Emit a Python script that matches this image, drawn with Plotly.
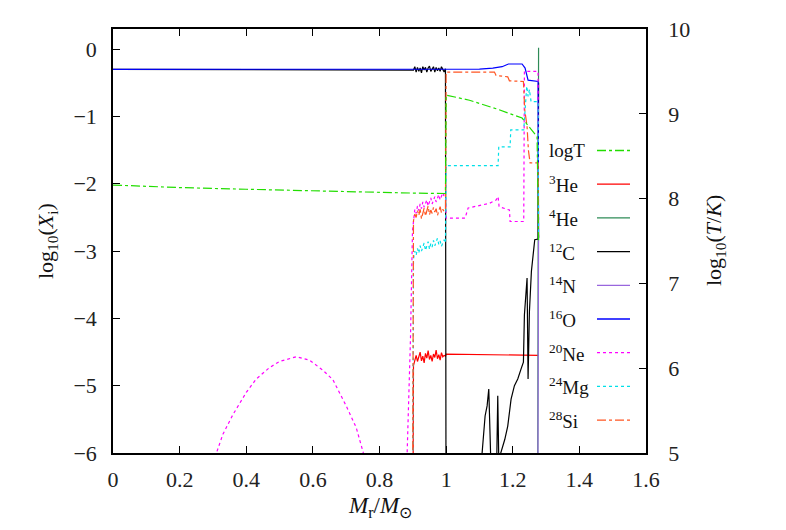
import plotly.graph_objects as go

# ---------------- data ----------------
NOISE_X = [0.902, 0.906, 0.910, 0.914, 0.918, 0.922, 0.926, 0.930, 0.934, 0.938,
           0.942, 0.946, 0.950, 0.954, 0.958, 0.962, 0.966, 0.970, 0.974, 0.978,
           0.982, 0.986, 0.990, 0.994, 0.998]

logT_x = [0.0, 0.2, 0.4, 0.6, 0.8, 0.9, 0.998, 1.0, 1.07, 1.15, 1.228, 1.252, 1.273, 1.2775]
logT_y = [8.16, 8.13, 8.11, 8.09, 8.07, 8.065, 8.06, 9.22, 9.16, 9.06, 8.95, 8.83, 8.73, 7.51]

he3_noise = [-4.70, -4.62, -4.55, -4.64, -4.58, -4.50, -4.63, -4.56, -4.66, -4.52,
             -4.59, -4.48, -4.61, -4.55, -4.64, -4.53, -4.58, -4.47, -4.60, -4.54,
             -4.62, -4.51, -4.57, -4.55, -4.56]
he3_x = [0.0, 0.899] + NOISE_X + [1.0, 1.276, 1.2775]
he3_y = [-9.0, -9.0] + he3_noise + [-4.53, -4.55, -4.55]

he4_x = [0.0, 1.274, 1.2775]
he4_y = [-9.0, -9.0, 0.02]

c12_noise = [-0.31, -0.26, -0.34, -0.27, -0.33, -0.28, -0.35, -0.26, -0.31, -0.27,
             -0.34, -0.28, -0.25, -0.33, -0.30, -0.26, -0.34, -0.27, -0.32, -0.28,
             -0.33, -0.26, -0.30, -0.34, -0.29]
c12_x = [0.0, 0.898] + NOISE_X + [1.0, 1.105, 1.108, 1.117, 1.123, 1.128, 1.131, 1.134,
                                  1.152, 1.155, 1.158, 1.168, 1.176, 1.185, 1.195, 1.205,
                                  1.215, 1.225, 1.232, 1.235, 1.240, 1.243, 1.246, 1.250,
                                  1.256, 1.261, 1.266, 1.276, 1.2775]
c12_y = [-0.30, -0.30] + c12_noise + [-8.0, -8.0, -6.0, -5.45, -5.30, -5.05, -5.50, -6.10,
                                      -6.10, -5.15, -6.10, -5.95, -5.80, -5.60, -5.20, -5.00,
                                      -4.90, -4.75, -4.65, -3.95, -3.60, -3.40, -4.90, -3.90,
                                      -3.30, -3.05, -2.83, -2.82, -0.50]

n14_x = [0.0, 1.274, 1.2775]
n14_y = [-9.0, -9.0, -2.80]

o16_x = [0.0, 0.998, 1.0, 1.10, 1.14, 1.168, 1.187, 1.228, 1.237, 1.246, 1.276, 1.2775]
o16_y = [-0.30, -0.30, -0.30, -0.295, -0.28, -0.26, -0.22, -0.22, -0.28, -0.46, -0.48, -2.80]

ne20_noise = [-2.52, -2.38, -2.44, -2.33, -2.40, -2.30, -2.37, -2.27, -2.35, -2.29,
              -2.24, -2.33, -2.26, -2.21, -2.30, -2.23, -2.19, -2.27, -2.20, -2.16,
              -2.24, -2.17, -2.13, -2.19, -2.14]
ne20_x = [0.25, 0.30, 0.33, 0.36, 0.40, 0.43, 0.47, 0.50, 0.55, 0.59, 0.63, 0.66, 0.70,
          0.73, 0.76, 0.80, 0.883, 0.893, 0.899] + NOISE_X + \
         [1.0, 1.057, 1.066, 1.09, 1.13, 1.15, 1.156, 1.159, 1.19, 1.192, 1.233, 1.235,
          1.276, 1.2775]
ne20_y = [-7.0, -6.15, -5.72, -5.43, -5.10, -4.90, -4.73, -4.64, -4.57, -4.62, -4.77,
          -4.91, -5.30, -5.62, -6.15, -7.0, -6.0, -4.30, -2.70] + ne20_noise + \
         [-2.51, -2.51, -2.36, -2.33, -2.29, -2.24, -2.19, -2.34, -2.39, -2.56, -2.56, -0.33,
          -0.33, -2.80]

mg24_noise = [-3.12, -3.00, -3.06, -2.96, -3.03, -2.92, -3.00, -2.95, -2.88, -2.99,
              -2.91, -2.86, -2.97, -2.89, -2.94, -2.84, -2.92, -2.87, -2.81, -2.90,
              -2.85, -2.93, -2.86, -2.83, -2.88]
mg24_x = [0.0, 0.899] + NOISE_X + [1.0, 1.156, 1.158, 1.192, 1.194, 1.233, 1.238, 1.242,
                                   1.246, 1.250, 1.255, 1.276, 1.2775]
mg24_y = [-9.0, -9.0] + mg24_noise + [-1.73, -1.73, -1.45, -1.45, -1.20, -1.20, -0.75,
                                      -0.55, -0.70, -0.60, -0.78, -0.78, -2.80]

si28_noise = [-2.55, -2.45, -2.50, -2.40, -2.47, -2.38, -2.52, -2.42, -2.36, -2.48,
              -2.41, -2.33, -2.46, -2.39, -2.44, -2.35, -2.42, -2.37, -2.47, -2.40,
              -2.34, -2.43, -2.38, -2.41, -2.37]
si28_x = [0.0, 0.898] + NOISE_X + [1.0, 1.145, 1.15, 1.185, 1.19, 1.232, 1.236, 1.243,
                                   1.247, 1.252, 1.276, 1.2775]
si28_y = [-9.0, -9.0] + si28_noise + [-0.34, -0.34, -0.39, -0.41, -0.47, -0.48, -0.90,
                                      -1.15, -1.50, -1.69, -1.69, -2.80]

x_ticks = [0, 0.2, 0.4, 0.6, 0.8, 1.0, 1.2, 1.4, 1.6]
y_ticks = [0, -1, -2, -3, -4, -5, -6]
y2_ticks = [5, 6, 7, 8, 9, 10]

legend_labels = ["logT", "<sup>3</sup>He", "<sup>4</sup>He", "<sup>12</sup>C", "<sup>14</sup>N",
                 "<sup>16</sup>O", "<sup>20</sup>Ne", "<sup>24</sup>Mg", "<sup>28</sup>Si"]

# ---------------- styles ----------------
FONT = "Liberation Serif"
styles = [
    ("#22dd00", "dashdot"),  # logT
    ("#ff0000", "solid"),    # 3He
    ("#2e8b57", "solid"),    # 4He
    ("#000000", "solid"),    # 12C
    ("#9966dd", "solid"),    # 14N
    ("#0000ff", "solid"),    # 16O
    ("#ff00ff", "dot"),      # 20Ne
    ("#00e0e8", "dot"),      # 24Mg
    ("#ff5522", "dashdot"),  # 28Si
]

series = [
    (logT_x, logT_y, "y2"),
    (he3_x, he3_y, "y"),
    (he4_x, he4_y, "y"),
    (c12_x, c12_y, "y"),
    (n14_x, n14_y, "y"),
    (o16_x, o16_y, "y"),
    (ne20_x, ne20_y, "y"),
    (mg24_x, mg24_y, "y"),
    (si28_x, si28_y, "y"),
]

fig = go.Figure()
for (xs, ys, ax), (col, dash), name in zip(series, styles, legend_labels):
    fig.add_trace(go.Scatter(x=xs, y=ys, mode="lines", yaxis=ax, name=name,
                             line=dict(color=col, width=1.2, dash=dash),
                             showlegend=False, hoverinfo="skip"))

# ---------------- custom legend (text left, sample right) ----------------
W_PLOT, H_PLOT, L, T = 533, 424, 113, 29
annotations = []
shapes = []
for i, (name, (col, dash)) in enumerate(zip(legend_labels, styles)):
    py = 150.5 + i * 33.7
    yp = (T + H_PLOT - py) / H_PLOT
    annotations.append(dict(x=(547 - L) / W_PLOT, y=yp, xref="paper", yref="paper",
                            text=name, showarrow=False, xanchor="left", yanchor="middle",
                            font=dict(family=FONT, size=19, color="#111")))
    shapes.append(dict(type="line", xref="paper", yref="paper",
                       x0=(597 - L) / W_PLOT, x1=(630 - L) / W_PLOT, y0=yp, y1=yp,
                       line=dict(color=col, width=1.3, dash=dash)))

# axis titles
annotations.append(dict(x=(47 - L) / W_PLOT, y=0.5, xref="paper", yref="paper",
                        xanchor="center", yanchor="middle",
                        text="log<sub>10</sub>(<i>X</i><sub>i</sub>)", showarrow=False,
                        textangle=-90, font=dict(family=FONT, size=22, color="#111")))
annotations.append(dict(x=(715 - L) / W_PLOT, y=0.5, xref="paper", yref="paper",
                        xanchor="center", yanchor="middle",
                        text="log<sub>10</sub>(<i>T</i>/<i>K</i>)", showarrow=False,
                        textangle=-90, font=dict(family=FONT, size=22, color="#111")))
annotations.append(dict(x=(380 - L) / W_PLOT, y=-(507 - (T + H_PLOT)) / H_PLOT,
                        xref="paper", yref="paper", xanchor="center", yanchor="middle",
                        text="<i>M</i><sub>r</sub>/<i>M</i><sub>⊙</sub>", showarrow=False,
                        font=dict(family=FONT, size=23, color="#111")))

tickfont = dict(family=FONT, size=22, color="#222")
fig.update_layout(
    width=786, height=530,
    margin=dict(l=L, r=786 - L - W_PLOT, t=T, b=530 - T - H_PLOT, pad=0),
    paper_bgcolor="white", plot_bgcolor="white",
    xaxis=dict(range=[0, 1.6], tickvals=x_ticks, ticks="inside", ticklen=7, tickwidth=1,
               tickcolor="#000", showline=True, linecolor="#000", linewidth=1.5,
               mirror="ticks", showgrid=False, zeroline=False, tickfont=tickfont,
               ticklabelstandoff=6),
    yaxis=dict(range=[-6, 0.3], tickvals=y_ticks, ticks="inside", ticklen=7, tickwidth=1,
               tickcolor="#000", showline=True, linecolor="#000", linewidth=1.5,
               showgrid=False, zeroline=False, tickfont=tickfont, ticklabelstandoff=10),
    yaxis2=dict(range=[5, 10], tickvals=y2_ticks, ticks="inside", ticklen=7, tickwidth=1,
                tickcolor="#000", showline=True, linecolor="#000", linewidth=1.5,
                overlaying="y", side="right", showgrid=False, zeroline=False,
                tickfont=tickfont, ticklabelstandoff=16),
    annotations=annotations, shapes=shapes, showlegend=False,
)

fig.write_html("out.html")
